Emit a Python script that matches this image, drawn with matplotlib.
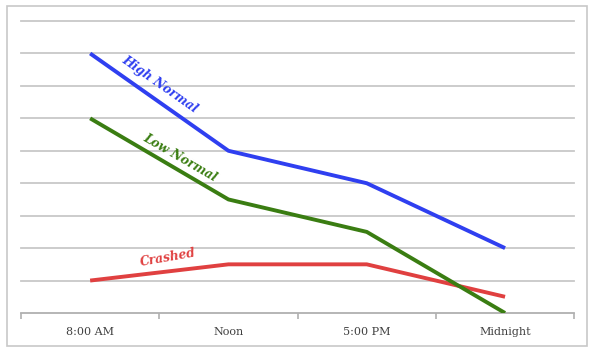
import matplotlib.pyplot as plt
from matplotlib.patches import Rectangle

categories = ["8:00 AM", "Noon", "5:00 PM", "Midnight"]
high_normal = [8, 5, 4, 2]
low_normal = [6, 3.5, 2.5, 0]
crashed = [1, 1.5, 1.5, 0.5]

fig = plt.figure(figsize=(6, 3.55), dpi=100)
ax = fig.add_axes([0.035, 0.1183, 0.922, 0.8225])

# outer frame around the whole chart
fig.patches.append(Rectangle((7 / 600, 1 - 346 / 355), 580 / 600, 340 / 355,
                             transform=fig.transFigure, fill=False,
                             edgecolor="#c8c8c8", linewidth=1.2))

x = list(range(len(categories)))
ax.plot(x, high_normal, color="#2f3ff0", lw=2.8, solid_capstyle="butt", zorder=3)
ax.plot(x, low_normal, color="#3a7d12", lw=2.8, solid_capstyle="butt", zorder=3)
ax.plot(x, crashed, color="#e04040", lw=2.8, solid_capstyle="butt", zorder=2)

ax.set_xlim(-0.5, 3.5)
ax.set_ylim(0, 9)
ax.set_yticks(range(1, 10))
ax.set_yticklabels([])
ax.tick_params(axis="y", length=0)
ax.grid(axis="y", color="#c8c8c8", lw=1.3)
ax.set_axisbelow(True)
for gl in ax.get_ygridlines():
    gl.set_clip_on(False)

ax.set_xticks(x)
ax.set_xticklabels(categories, fontsize=8, family="DejaVu Serif", color="#404040")
ax.tick_params(axis="x", length=0, pad=10)
ax.set_xticks([-0.5, 0.5, 1.5, 2.5, 3.5], minor=True)
ax.tick_params(axis="x", which="minor", length=4, color="#b0b0b0", width=1.2)

for s in ["top", "right", "left"]:
    ax.spines[s].set_visible(False)
ax.spines["bottom"].set_color("#b0b0b0")
ax.spines["bottom"].set_linewidth(1.3)

font = dict(family="DejaVu Serif", fontsize=8.8, fontweight="bold",
            style="italic", ha="center", va="center")
ax.text(0.5, 7.05, "High Normal", color="#2f3ff0", rotation=-35, **font)
ax.text(0.65, 4.8, "Low Normal", color="#3a7d12", rotation=-30, **font)
ax.text(0.56, 1.72, "Crashed", color="#e04040", rotation=10, **font)

fig.savefig("out.png", dpi=100)
